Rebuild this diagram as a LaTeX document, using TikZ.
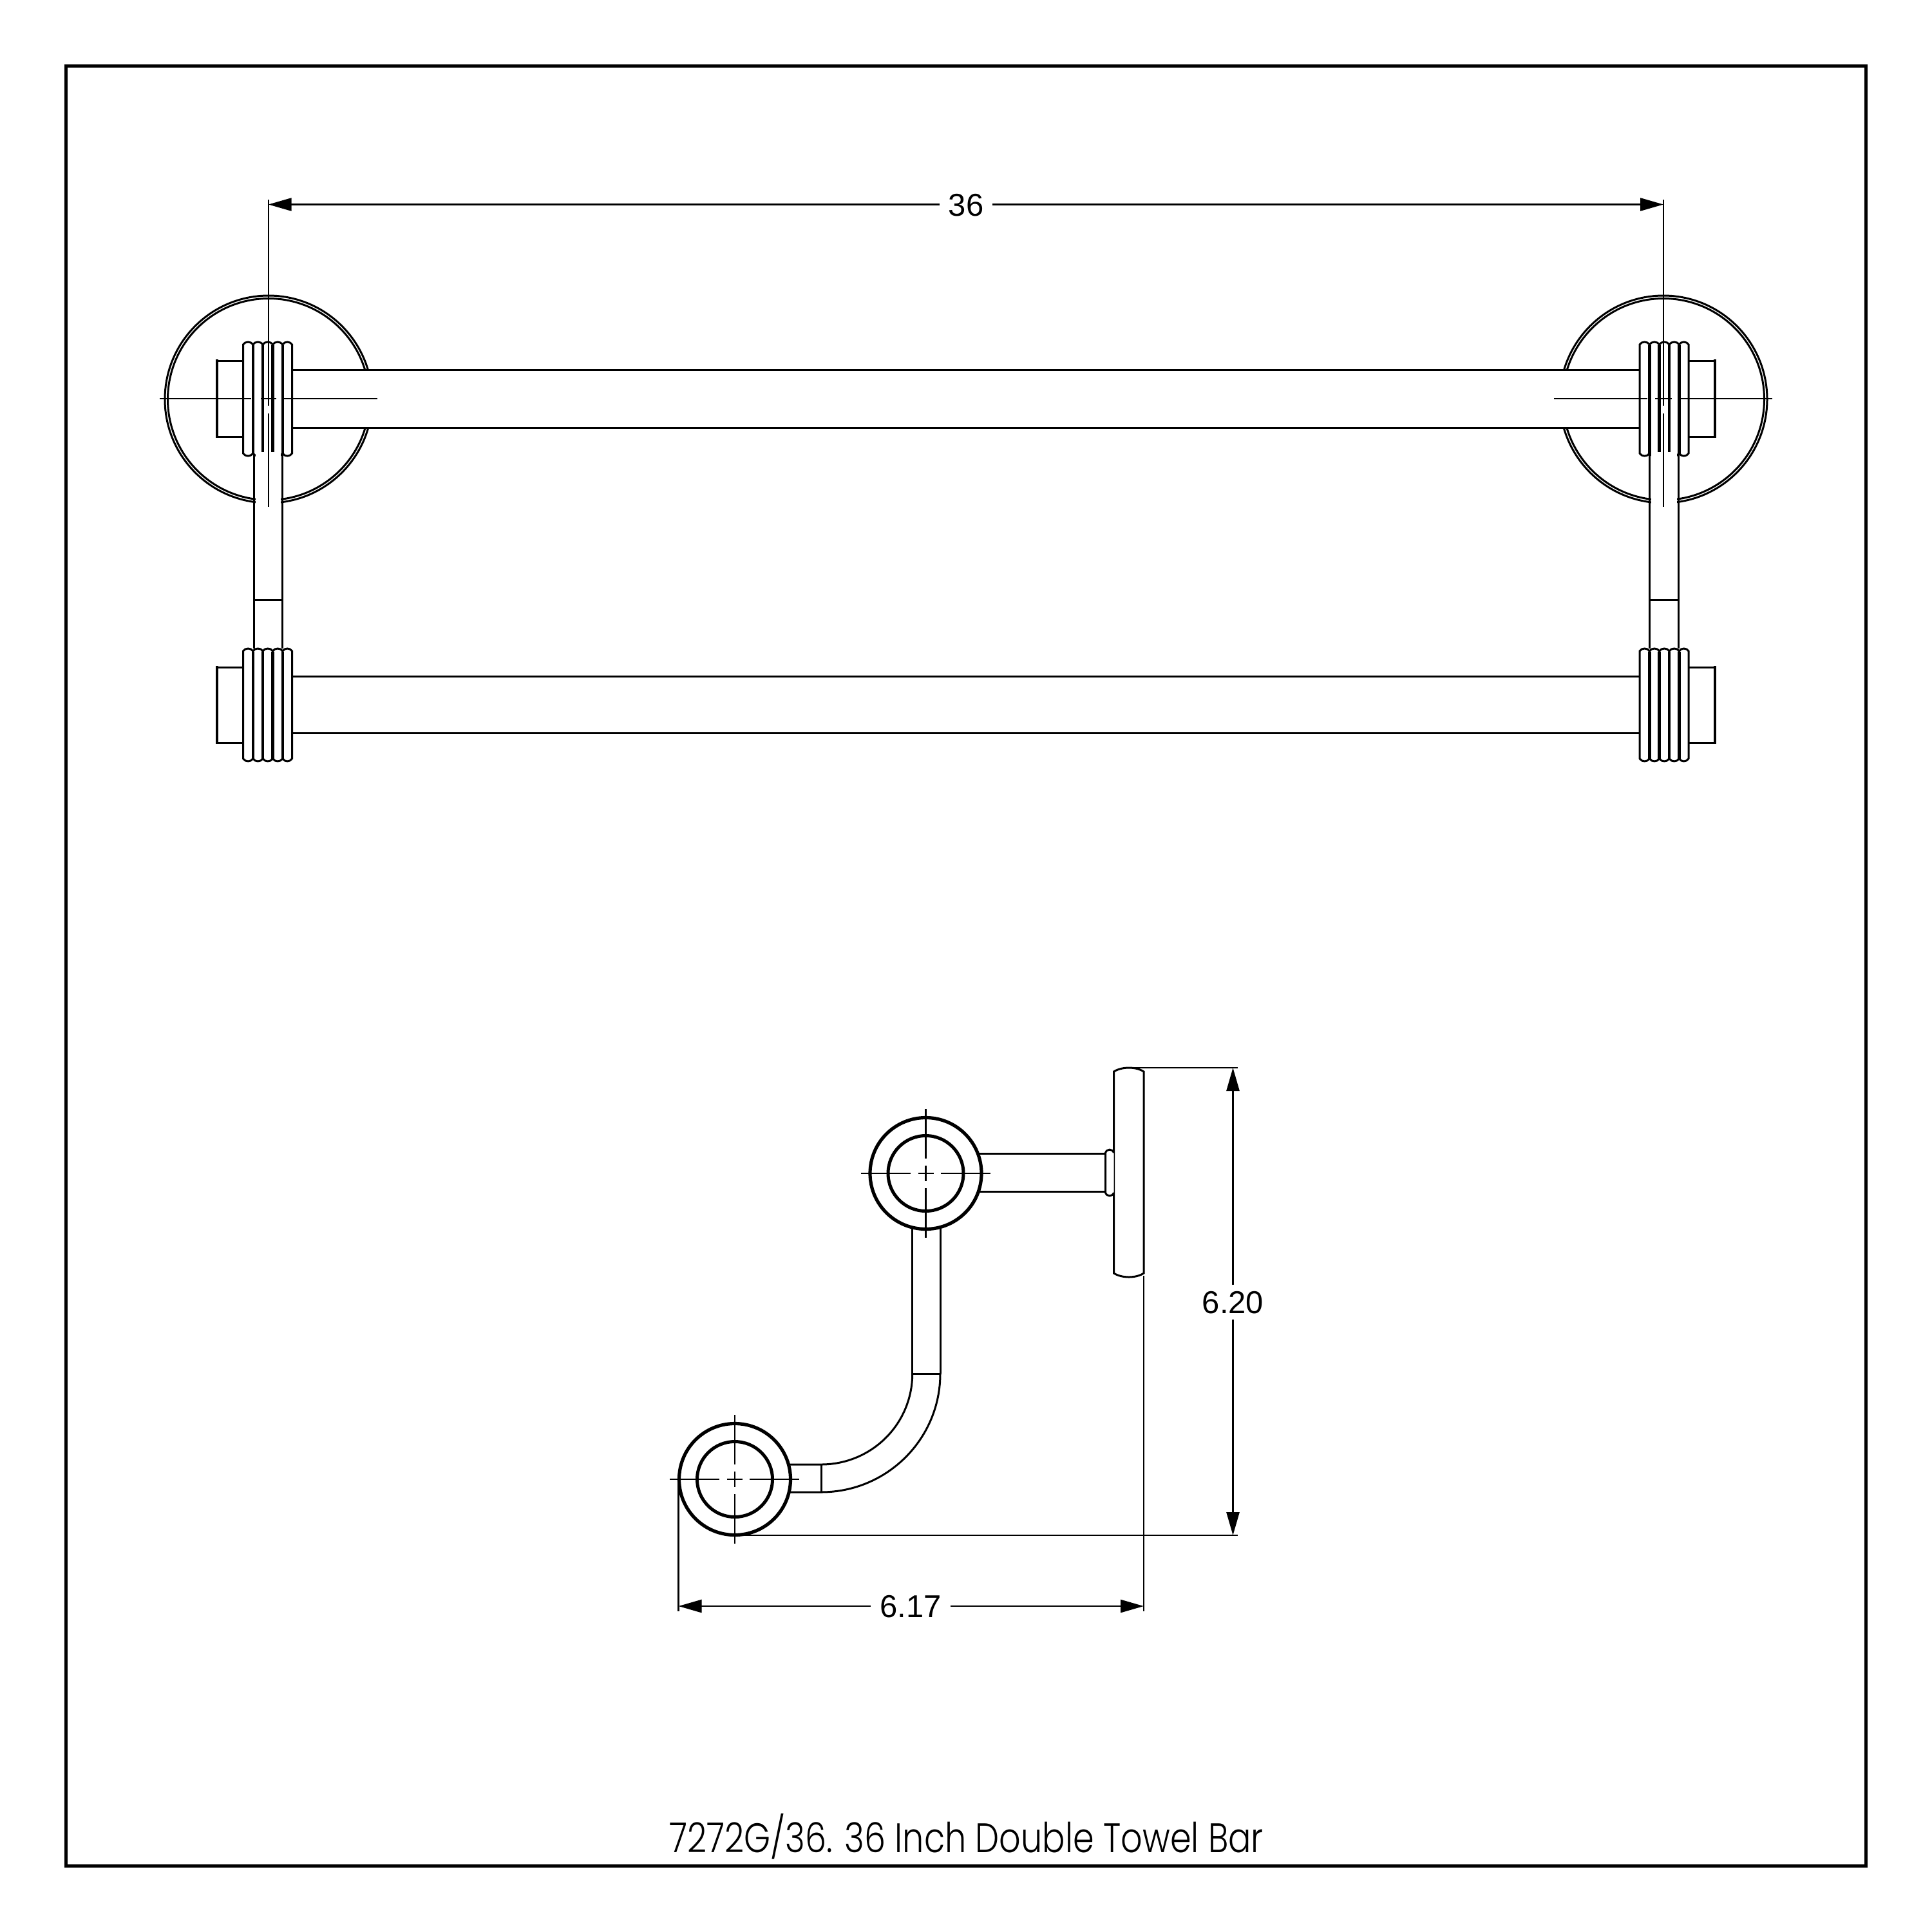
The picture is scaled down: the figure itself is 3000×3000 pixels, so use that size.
\documentclass[tikz,border=0pt]{standalone}
\usepackage{fontspec}
\usetikzlibrary{arrows.meta}
\setmainfont{Liberation Sans}
\newfontfamily\titlefont{Poppins Light}
\tikzset{
  thinline/.style={line width=2.4pt,black},
  plateline/.style={line width=3pt,black},
  mainline/.style={line width=3pt,black},
  heavyline/.style={line width=4.6pt,black},
  tipped/.style={line width=2.6pt,black,-{Triangle[length=36pt,width=20pt]}},
  dimlabel/.style={font=\fontsize{49}{49}\selectfont,inner xsep=14pt,inner ysep=9pt,text height=35pt,text depth=0pt,anchor=center},
  titlelabel/.style={font=\titlefont\fontsize{64}{64}\selectfont,inner sep=0pt,anchor=center,xscale=0.82}
}
% #1 left x, #2 right x, #3 top y, #4 bottom y
\newcommand{\ringshape}[4]{%
  \draw[mainline,fill=white] (#1,#3+4) .. controls (#1+3,#3-1.3) and (#2-3,#3-1.3) .. (#2,#3+4)
    -- (#2,#4-4) .. controls (#2-3,#4+1.3) and (#1+3,#4+1.3) .. (#1,#4-4) -- cycle;}
% five rings, #1 left x, #2 top y, #3 bottom y
\newcommand{\collarset}[3]{%
  \ringshape{#1}{#1+15.3}{#2}{#3}
  \ringshape{#1+15.3}{#1+30.6}{#2}{#3}
  \ringshape{#1+30.6}{#1+46}{#2}{#3}
  \ringshape{#1+46}{#1+61.3}{#2}{#3}
  \ringshape{#1+61.3}{#1+76}{#2}{#3}
  \draw[heavyline] (#1+15.3,#2+5) -- (#1+15.3,#3-3);
  \draw[heavyline] (#1+30.6,#2+5) -- (#1+30.6,#3-3);
  \draw[heavyline] (#1+46,#2+5) -- (#1+46,#3-3);
  \draw[heavyline] (#1+61.3,#2+5) -- (#1+61.3,#3-3);}
% hub: #1 centre x, #2 centre y, gaps drawn for the centre lines
\newcommand{\hubrings}[2]{%
  \draw[line width=5.2pt,black,fill=white] (#1,#2) circle[radius=86.5pt];
  \draw[line width=5pt,black] (#1,#2) circle[radius=58.5pt];
  \draw[thinline] (#1-101,#2) -- (#1-24,#2);
  \draw[thinline] (#1-12,#2) -- (#1+12,#2);
  \draw[thinline] (#1+23,#2) -- (#1+100,#2);
  \draw[thinline] (#1,#2-100) -- (#1,#2-23);
  \draw[thinline] (#1,#2-12) -- (#1,#2+12);
  \draw[thinline] (#1,#2+23) -- (#1,#2+100);}
\begin{document}
\begin{tikzpicture}[x=1pt,y=-1pt]
\useasboundingbox (0,0) rectangle (3000,3000);
\fill[white] (0,0) rectangle (3000,3000);
\draw[line width=5pt,black] (102.5,102.5) rectangle (2897.5,2897.5);

% wall plates, front view
\draw[plateline] (417,620) circle[radius=161pt];
\draw[plateline] (417,620) circle[radius=156.5pt];
\draw[plateline] (2583,620) circle[radius=161pt];
\draw[plateline] (2583,620) circle[radius=156.5pt];

% upper bar
\fill[white] (453,574) rectangle (2545,664);
\draw[mainline] (453,574) -- (2545,574);
\draw[mainline] (453,664) -- (2545,664);
% lower bar
\draw[mainline] (453,1050) -- (2545,1050);
\draw[mainline] (453,1138) -- (2545,1138);

% end caps
\foreach \ct/\cb in {560/678,1036/1153}{
  \draw[mainline] (377,\ct) -- (337,\ct);
  \draw[mainline] (377,\cb) -- (337,\cb);
  \draw[heavyline,line cap=rect] (337,\ct) -- (337,\cb);
  \draw[mainline] (2622,\ct) -- (2663,\ct);
  \draw[mainline] (2622,\cb) -- (2663,\cb);
  \draw[heavyline,line cap=rect] (2663,\ct) -- (2663,\cb);
}

% collars
\collarset{377.5}{531}{708}
\collarset{377.5}{1007}{1182}
\collarset{2546}{531}{708}
\collarset{2546}{1007}{1182}

% posts
\foreach \pl/\pr in {394.5/438.5,2561/2606}{
  \fill[white] (\pl+2.5,702) rectangle (\pr-2.5,1005);
  \draw[mainline] (\pl,706) -- (\pl,1007);
  \draw[mainline] (\pr,706) -- (\pr,1007);
  \draw[mainline] (\pl,931) -- (\pr,931);
}

% centre lines, front view
\draw[thinline] (248,619) -- (390,619);
\draw[thinline] (405,619) -- (429,619);
\draw[thinline] (440,619) -- (586,619);
\draw[thinline] (2413,619) -- (2558,619);
\draw[thinline] (2570,619) -- (2596,619);
\draw[thinline] (2607,619) -- (2752,619);
\draw[thinline] (416.7,310) -- (416.7,630);
\draw[thinline] (416.7,642) -- (416.7,787);
\draw[thinline] (2583,310) -- (2583,630);
\draw[thinline] (2583,642) -- (2583,787);

% dimension 36
\node[dimlabel] (dimA) at (1500,317.5) {36};
\coordinate (dimAl) at (416.7,317.5);
\coordinate (dimAr) at (2583,317.5);
\draw[tipped] (dimA.west) -- (dimAl);
\draw[tipped] (dimA.east) -- (dimAr);

% side view: plate and arm
\draw[mainline,fill=white] (1729.5,1664) .. controls (1742,1656) and (1764,1656) .. (1776,1664)
  -- (1776,1977) .. controls (1764,1985) and (1742,1985) .. (1729.5,1977) -- cycle;
\draw[mainline,fill=white] (1729.5,1790) .. controls (1727,1783.5) and (1719,1783.5) .. (1716.5,1790)
  -- (1716.5,1852) .. controls (1719,1858.5) and (1727,1858.5) .. (1729.5,1852);
\draw[mainline] (1520,1791) -- (1716.5,1791);
\draw[mainline] (1520,1850) -- (1716.5,1850);

% side view: lower tube
\draw[mainline] (1416.7,1905) -- (1416.7,2133);
\draw[mainline] (1460,1905) -- (1460,2133);
\draw[mainline] (1416.7,2133) -- (1460,2133);
\draw[mainline] (1416.7,2133) .. controls (1416.7,2211.3) and (1353.3,2274) .. (1275,2274) -- (1225,2274);
\draw[mainline] (1460,2133) .. controls (1460,2234.6) and (1377.2,2317) .. (1275,2317) -- (1225,2317);
\draw[mainline] (1275,2274) -- (1275,2317);

% side view: hubs
\hubrings{1437.5}{1822}
\hubrings{1141}{2297}

% dimension lines, side view
\coordinate (extTl) at (1756,1658);
\coordinate (extTr) at (1922,1658);
\coordinate (extBl) at (1143,2384);
\coordinate (extBr) at (1922,2384);
\coordinate (extLt) at (1053.5,2297);
\coordinate (extLb) at (1053.5,2502);
\coordinate (extRt) at (1776,1981);
\coordinate (extRb) at (1776,2502);
\draw[thinline] (extTl) -- (extTr);
\draw[thinline] (extBl) -- (extBr);
\draw[thinline] (extLt) -- (extLb);
\draw[thinline] (extRt) -- (extRb);

\node[dimlabel] (dimB) at (1914.5,2022) {6.20};
\coordinate (dimBt) at (1914.5,1658);
\coordinate (dimBb) at (1914.5,2384);
\draw[tipped] (dimB.north) -- (dimBt);
\draw[tipped] (dimB.south) -- (dimBb);

\node[dimlabel] (dimC) at (1414,2494) {6.17};
\coordinate (dimCl) at (1053.5,2494);
\coordinate (dimCr) at (1776,2494);
\draw[tipped] (dimC.west) -- (dimCl);
\draw[tipped] (dimC.east) -- (dimCr);

% title
\node[titlelabel] (caption) at (1500.5,2852) {7272G/36. 36 Inch Double Towel Bar};
\end{tikzpicture}
\end{document}
